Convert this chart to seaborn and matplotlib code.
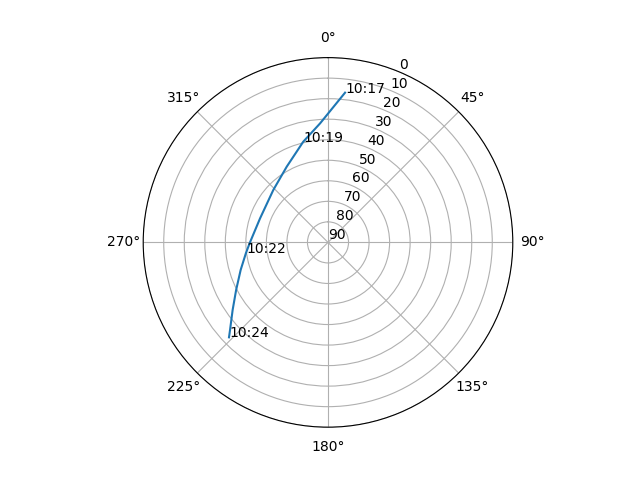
import numpy as np
import pandas as pd
import matplotlib
matplotlib.use('Agg')
import matplotlib.pyplot as plt
import seaborn as sb

# satelita ceļš debesīs (azimuts / pacēlums)
azimuts = [6.5, 356.2, 346.2, 331.4, 313.8, 289.5, 270.0, 262.6, 252.5, 242.6, 234.7, 228.2, 226.2]
pacelums = [16.6, 31.9, 39.5, 48.0, 53.1, 54.9, 52.0, 49.7, 45.4, 39.6, 33.1, 26.0, 23.2]
laiki = ['10:17', '', '10:19', '', '', '', '', '10:22', '', '', '', '', '10:24']

df = pd.DataFrame({'theta': np.radians(azimuts), 'el': pacelums, 'laiks': laiki})

fig = plt.figure(figsize=(6.4, 4.8), dpi=100)
ax = fig.add_subplot(111, projection='polar')
ax.set_theta_zero_location('N')
ax.set_theta_direction(-1)

sb.lineplot(data=df, x='theta', y='el', sort=False, ax=ax, color='tab:blue')

for _, rinda in df.iterrows():
    if rinda['laiks']:
        ax.text(rinda['theta'], rinda['el'], rinda['laiks'])

ax.set_ylim(90, 0)
ax.set_yticks(range(0, 91, 10))
ax.set_xlabel('')
ax.set_ylabel('')
ax.grid(True)

plt.savefig('out.png')
